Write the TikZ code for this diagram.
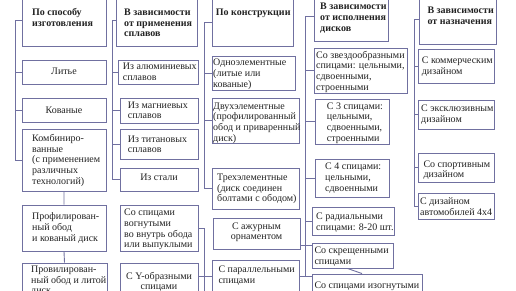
\documentclass[tikz,border=0pt]{standalone}
\usepackage{fontspec}
\setmainfont{Liberation Serif}
\usetikzlibrary{calc}
\definecolor{lc}{RGB}{112,112,160}
\definecolor{txc}{RGB}{35,35,35}
\newcommand\mybox[5]{\node[bx, minimum width={#4-#2}, minimum height={#5-#3}] (#1) at ({(#2+#4)/2},{(#3+#5)/2}) {};}
\begin{document}
\begin{tikzpicture}[x=1pt,y=-1pt,
 bx/.style={draw=lc, line width=0.9pt, inner sep=0pt, fill=white},
 ln/.style={draw=lc, line width=0.9pt},
 tx/.style={inner sep=0pt, align=left, text=txc, anchor=north west, font=\fontsize{10}{10.6}\selectfont},
 hx/.style={tx, font=\bfseries\fontsize{10}{10.6}\selectfont},
 cx/.style={tx, align=center, anchor=north}]
\useasboundingbox (0,0) rectangle (516,290);
\coordinate (bot) at (0,292);
\coordinate (k1) at (15,0);
\coordinate (k2) at (112,0);
\coordinate (k3) at (204,0);
\coordinate (k4) at (305,0);
\coordinate (k5) at (414,0);
% column 1
\mybox{h1}{22}{-6}{106}{46}
\mybox{a1}{22}{60}{106}{84}
\mybox{a2}{22}{98}{106}{122}
\mybox{a3}{22}{129}{106}{191}
\mybox{a4}{22}{205}{106}{251}
\mybox{a5}{22}{263}{107}{297}
% column 2
\mybox{h2}{116}{-6}{197}{46}
\mybox{b1}{118}{60}{198}{84}
\mybox{b2}{120}{98}{198}{123}
\mybox{b3}{120}{129}{198}{159}
\mybox{b4}{120}{168}{198}{191}
\mybox{b5}{120}{205}{198}{251}
\mybox{b6}{120}{263}{198}{300}
% column 3
\mybox{h3}{212}{-2}{293}{46}
\mybox{c1}{212}{56}{295}{90}
\mybox{c2}{212}{98}{299}{143}
\mybox{c3}{212}{168}{299}{209}
\mybox{c4}{213}{218}{300}{249}
\mybox{c5}{212}{260}{299}{292}
% column 4
\mybox{h4}{314}{-8}{388}{41}
\mybox{d1}{314}{48}{407}{93}
\mybox{d2}{315}{99}{389}{144}
\mybox{d3}{315}{159}{389}{197}
\mybox{d4}{312}{207}{394}{235}
\mybox{d5}{312}{243}{393}{268}
\mybox{d6}{312}{274}{422}{300}
% column 5
\mybox{h5}{419}{-6}{496}{44}
\mybox{e1}{418}{49}{494}{83}
\mybox{e2}{418}{100}{494}{129}
\mybox{e3}{418}{153}{494}{182}
\mybox{e4}{418}{193}{494}{219}
% connectors
\draw[ln] (h1.west) -- (h1.west -| k1) |- (a3.west);
\foreach \n in {a1,a2} \draw[ln] (\n.west -| k1) -- (\n.west);
\draw[ln] (a3.south) -- (a4.north) (a4.south) -- (a5.north);
\draw[ln] (h2.west) -- (h2.west -| k2) |- (b4.west);
\foreach \n in {b1,b2,b3} \draw[ln] (\n.west -| k2) -- (\n.west);
\draw[ln] (b5.east) -- (b5.east -| k3) -- (bot -| k3);
\draw[ln] (b6.east |- c5.west) -- (c5.west);
\draw[ln] (h3.west) -- (h3.west -| k3) |- (c3.west);
\foreach \n in {c1,c2} \draw[ln] (\n.west -| k3) -- (\n.west);
\draw[ln] (h4.west) -- (h4.west -| k4) -- (c5.east -| k4);
\foreach \n in {d1,d2,d3,d4} \draw[ln] (\n.west -| k4) -- (\n.west);
\draw[ln] (c5.east) -- (c5.east -| d6.west);
\coordinate (az) at ($(c4.south east)+(0,-4)$);
\draw[ln] (az) -- (az -| d5.west);
\draw[ln] ($(d5.south)+(-5,0)$) -- ($(d6.north)+(-5,0)$);
\draw[ln] (h5.west) -- (h5.west -| k5) |- (e4.west);
\foreach \n in {e1,e2,e3} \draw[ln] (\n.west -| k5) -- (\n.west);
% texts column 1
\node[hx] (t-h1) at (32,7.9) {\strut По способу\\изготовления};
\node[cx] (t-a1) at (64,66.6) {\strut Литье};
\node[cx] (t-a2) at (64,105.6) {\strut Кованые};
\node[tx] (t-a3) at (32,134) {\strut Комбиниро-\\ванные\\(с применением\\различных\\технологий)};
\node[tx] (t-a4) at (32,212.3) {\strut Профилирован-\\ный обод\\и кованый диск};
\node[tx] (t-a5) at (31,265) {\strut Провилирован-\\ный обод и литой\\диск};
% column 2
\node[hx] (t-h2) at (124,7.9) {\strut В зависимости\\от применения\\сплавов};
\node[tx] (t-b1) at (122.7,62.3) {\strut Из алюминиевых\\сплавов};
\node[tx] (t-b2) at (127.7,100.6) {\strut Из магниевых\\сплавов};
\node[tx] (t-b3) at (127.7,134.6) {\strut Из титановых\\сплавов};
\node[cx] (t-b4) at (159,173) {\strut Из стали};
\node[tx] (t-b5) at (124,208.3) {\strut Со спицами\\вогнутыми\\во внутрь обода\\или выпуклыми};
\node[cx] (t-b6) at (159,271.6) {\strut С Y-образными\\спицами};
% column 3
\node[hx] (t-h3) at (215.7,7.9) {\strut По конструкции};
\node[tx] (t-c1) at (213,58.3) {\strut Одноэлементные\\(литые или\\кованые)};
\node[tx] (t-c2) at (213,101.6) {\strut Двухэлементные\\(профилированный\\обод и приваренный\\диск)};
\node[tx] (t-c3) at (217,173) {\strut Трехэлементные\\(диск соединен\\болтами с ободом)};
\node[cx] (t-c4) at (256.5,221.6) {\strut С ажурным\\орнаментом};
\node[tx] (t-c5) at (218.3,265) {\strut С параллельными\\спицами};
% column 4
\node[hx] (t-h4) at (320,2.3) {\strut В зависимости\\от исполнения\\дисков};
\node[tx] (t-d1) at (316,50.6) {\strut Со звездообразными\\спицами: цельными,\\сдвоенными,\\строенными};
\node[tx] (t-d2) at (326.7,101.6) {\strut С 3 спицами:\\цельными,\\сдвоенными,\\строенными};
\node[tx] (t-d3) at (325,162.3) {\strut С 4 спицами:\\цельными,\\сдвоенными};
\node[tx] (t-d4) at (316,212.3) {\strut С радиальными\\спицами: 8-20 шт.};
\node[tx] (t-d5) at (314.3,246.3) {\strut Со скрещенными\\спицами};
\node[tx] (t-d6) at (314.3,280.6) {\strut Со спицами изогнутыми};
% column 5
\node[hx] (t-h5) at (427.3,6.3) {\strut В зависимости\\от назначения};
\node[tx] (t-e1) at (421.7,56.3) {\strut С коммерческим\\дизайном};
\node[tx] (t-e2) at (421,104.3) {\strut С эксклюзивным\\дизайном};
\node[tx] (t-e3) at (423.3,159.6) {\strut Со спортивным\\дизайном};
\node[tx] (t-e4) at (420,197.3) {\strut С дизайном\\автомобилей 4x4};
\end{tikzpicture}
\end{document}
